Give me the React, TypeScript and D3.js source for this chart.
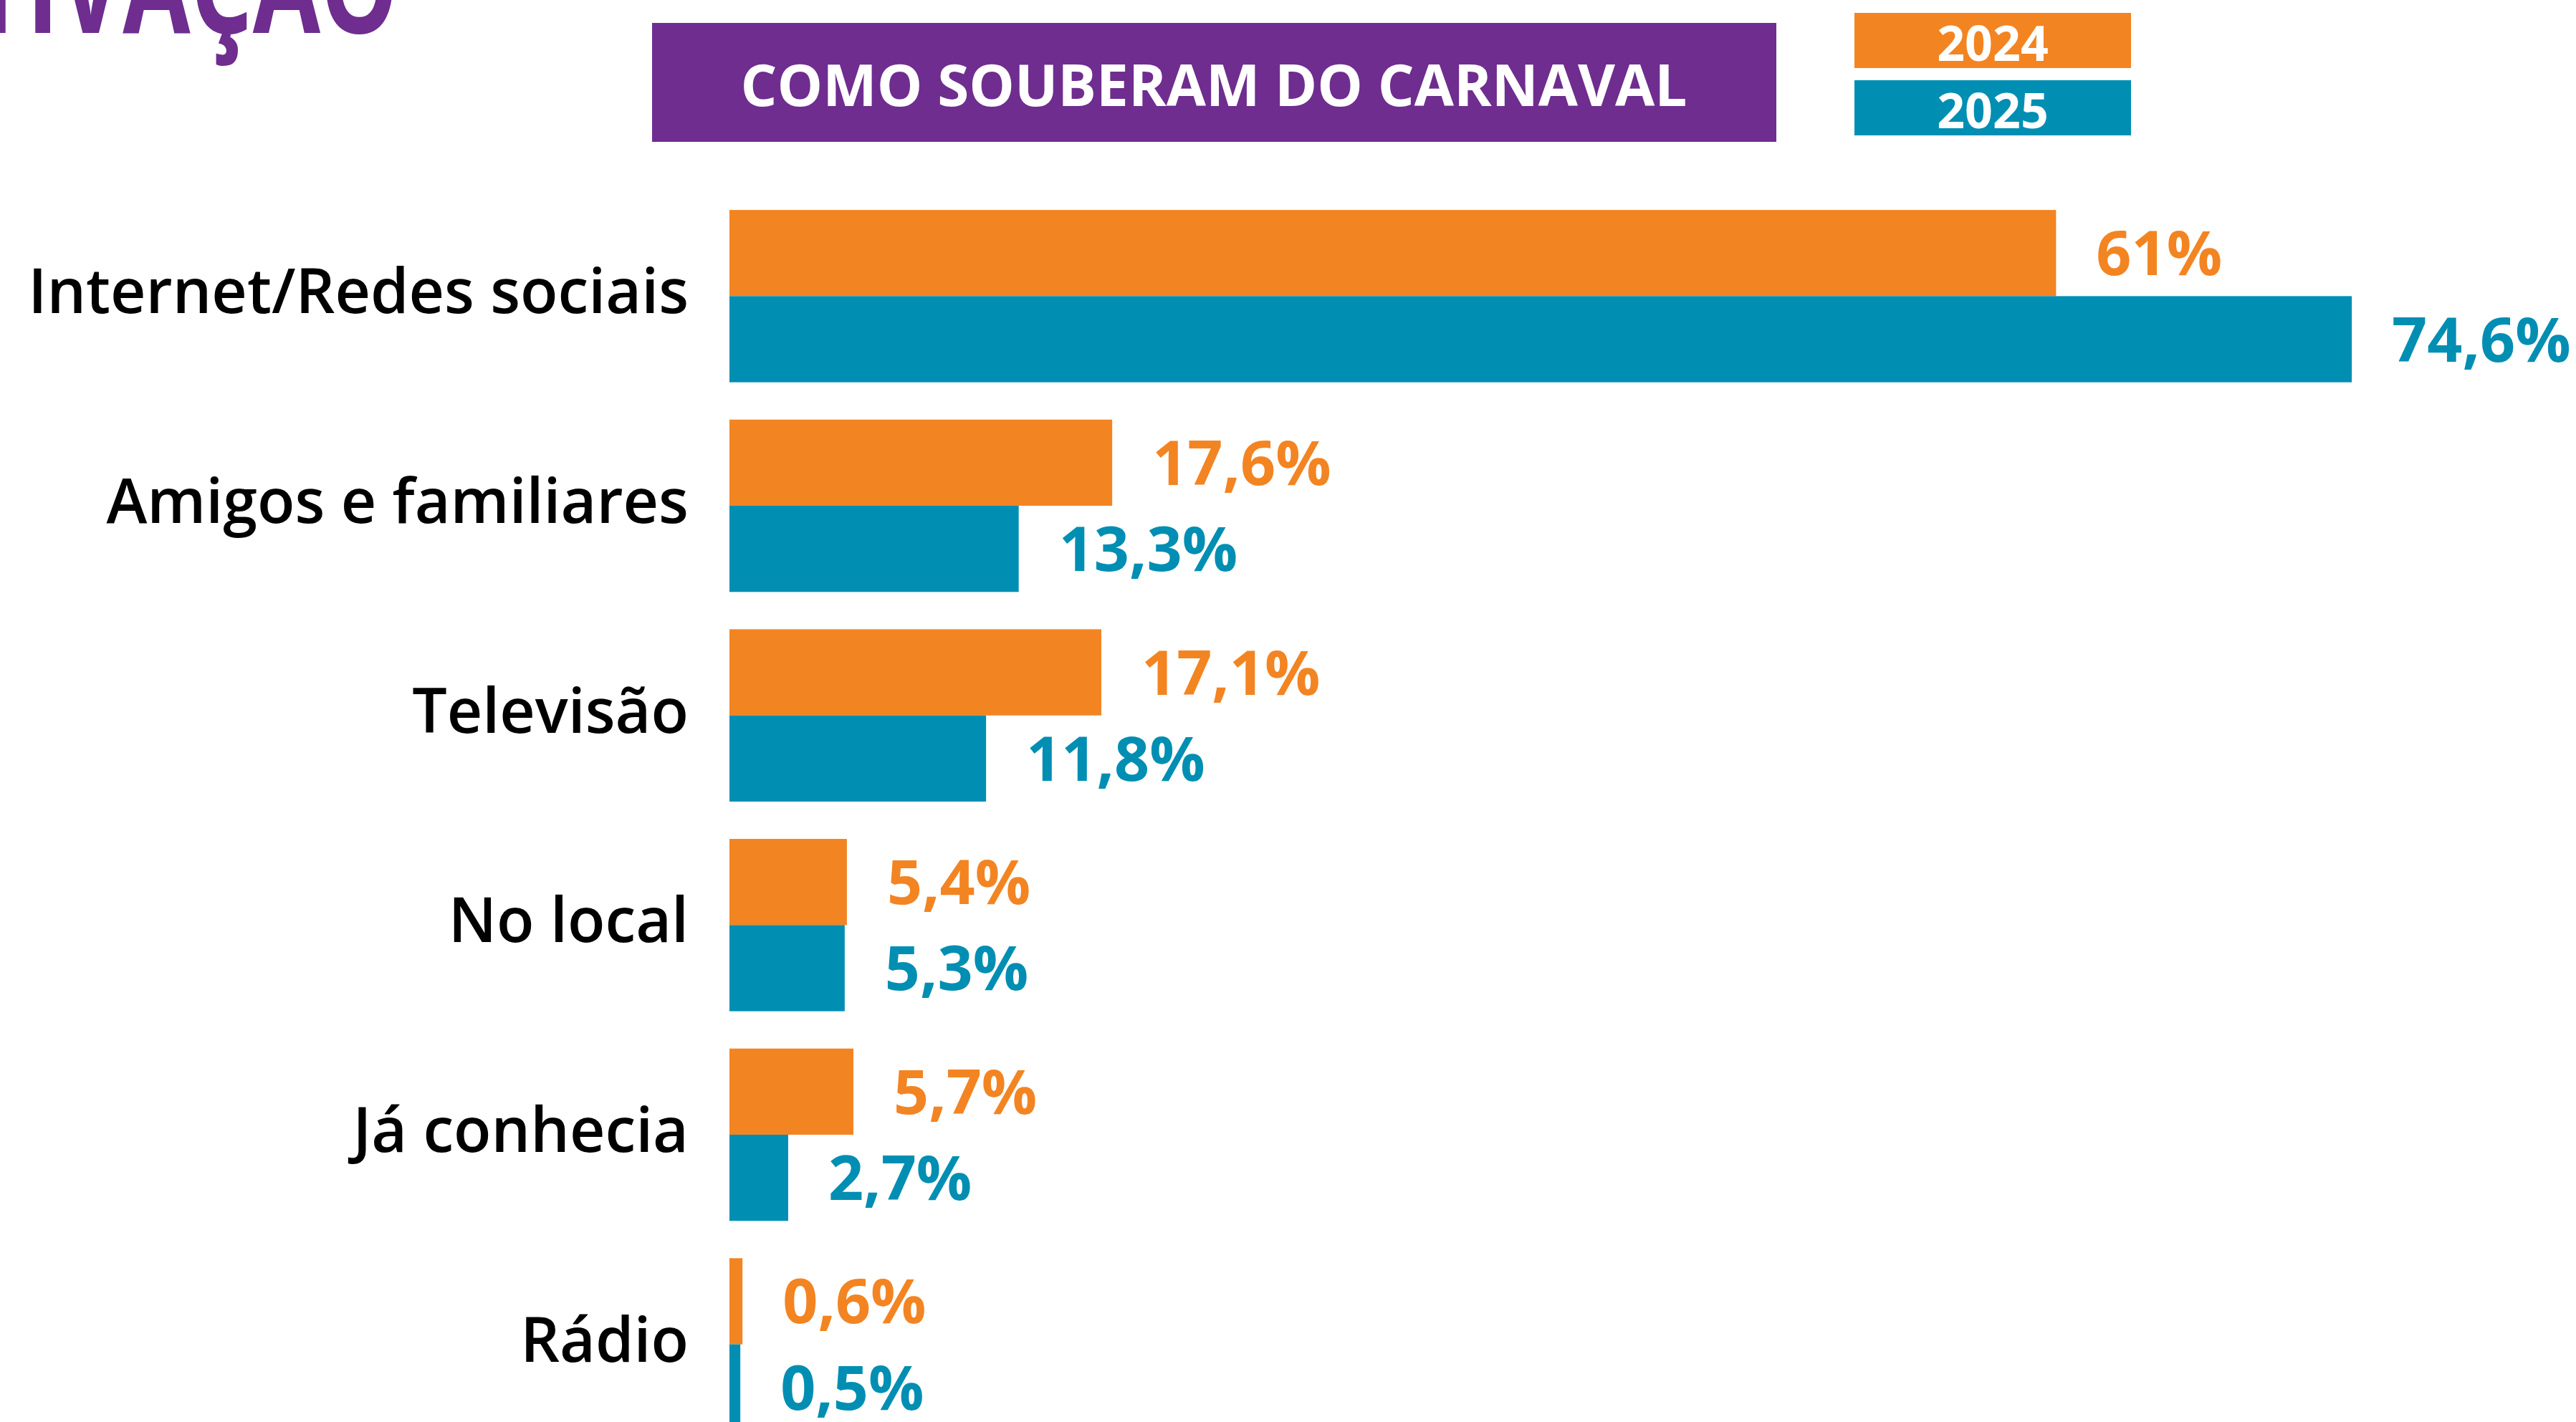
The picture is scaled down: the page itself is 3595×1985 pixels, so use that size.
import React from "react";
import * as d3 from "d3";

const categories = [
  "Internet/Redes sociais",
  "Amigos e familiares",
  "Televisão",
  "No local",
  "Já conhecia",
  "Rádio",
];
const years = ["2024", "2025"];
const values2024 = [61, 17.6, 17.1, 5.4, 5.7, 0.6];
const values2025 = [74.6, 13.3, 11.8, 5.3, 2.7, 0.5];

const W = 3595;
const H = 1985;
const ORANGE = "#F38422";
const TEAL = "#008EB3";
const PURPLE = "#6E2D8F";
const FONT = "'Open Sans', sans-serif";

const fmt = (v: number) => String(v).replace(".", ",") + "%";

export default function App() {
  const x = d3.scaleLinear().domain([0, 100]).range([1018, 1018 + 3035]);
  const y = d3.scaleBand<string>().domain(categories).range([241, 2049]).padding(0.178);
  const inner = d3.scaleBand<string>().domain(years).range([0, y.bandwidth()]);
  const color = d3.scaleOrdinal<string, string>().domain(years).range([ORANGE, TEAL]);

  const rows = categories.map((c, i) => ({
    cat: c,
    bars: [
      { year: "2024", v: values2024[i] },
      { year: "2025", v: values2025[i] },
    ],
  }));

  return (
    <svg
      width={W}
      height={H}
      style={{ position: "absolute", left: 0, top: 0, background: "#fff" }}
      fontFamily={FONT}
    >
      {/* section heading, mostly above the frame */}
      <g transform="translate(556,46) scale(0.72,1)">
        <text x={0} y={0} textAnchor="end" fontSize={190} fontWeight={700} fill={PURPLE}>
          MOTIVAÇÃO
        </text>
      </g>

      {/* title box */}
      <rect x={910} y={32} width={1569} height={166} fill={PURPLE} />
      <text
        x={1694}
        y={148}
        textAnchor="middle"
        fontSize={80}
        fontWeight={700}
        fill="#fff"
      >
        COMO SOUBERAM DO CARNAVAL
      </text>

      {/* legend */}
      {years.map((yr, i) => (
        <g key={yr} transform={`translate(2588,${18 + i * 94})`}>
          <rect width={386} height={77} fill={color(yr)} />
          <text x={193} y={67} textAnchor="middle" fontSize={68} fontWeight={700} fill="#fff">
            {yr}
          </text>
        </g>
      ))}

      {rows.map((r) => {
        const y0 = y(r.cat)!;
        return (
          <g key={r.cat}>
            <text
              x={961}
              y={y0 + y.bandwidth() / 2 + 24}
              textAnchor="end"
              fontSize={86}
              fontWeight={600}
              fill="#000"
            >
              {r.cat}
            </text>
            {r.bars.map((b) => {
              const by = y0 + inner(b.year)!;
              return (
                <g key={b.year}>
                  <rect
                    x={x(0)}
                    y={by}
                    width={x(b.v) - x(0)}
                    height={inner.bandwidth()}
                    fill={color(b.year)}
                  />
                  <text
                    x={x(b.v) + 56}
                    y={by + inner.bandwidth() / 2 + 31}
                    fontSize={86}
                    fontWeight={700}
                    fill={color(b.year)}
                  >
                    {fmt(b.v)}
                  </text>
                </g>
              );
            })}
          </g>
        );
      })}
    </svg>
  );
}
